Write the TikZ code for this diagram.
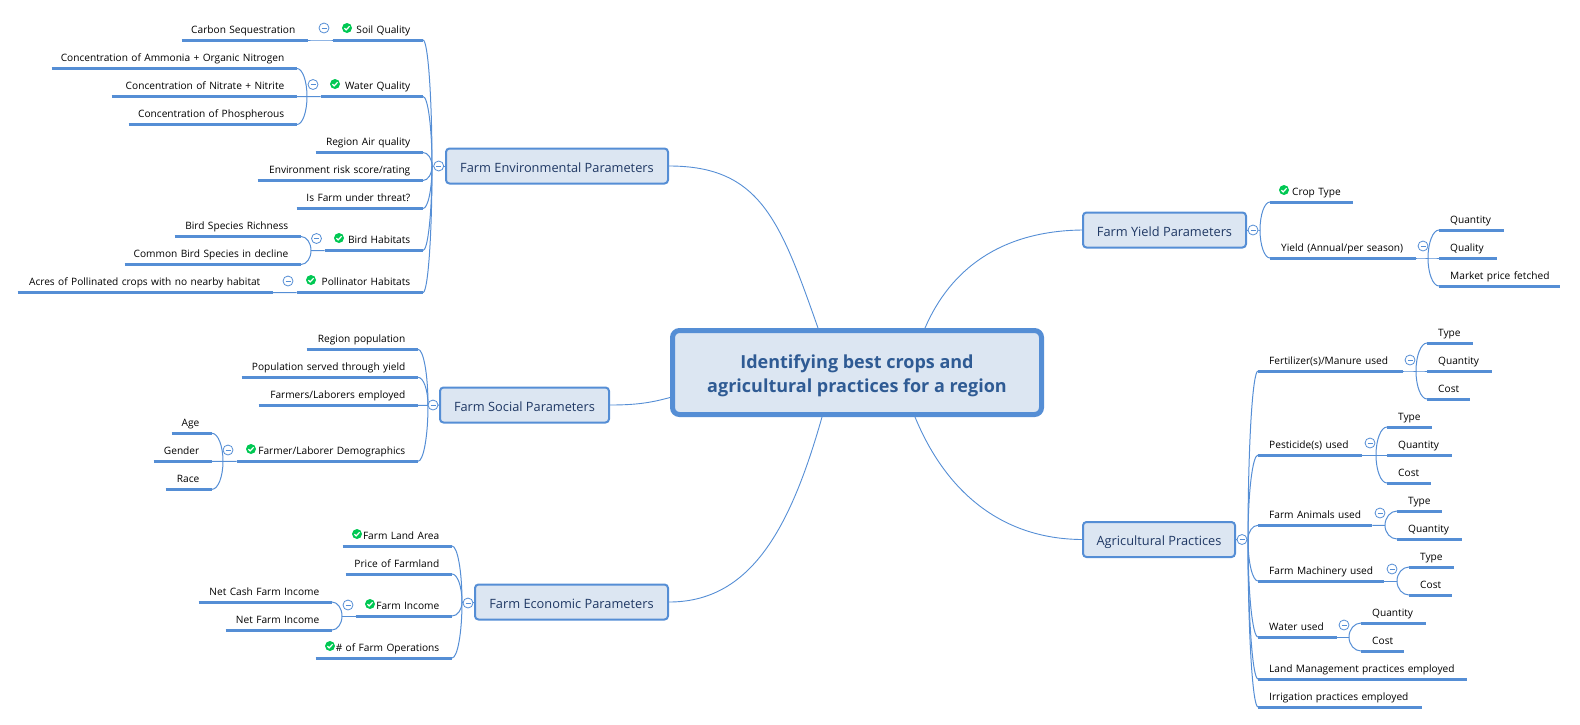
\documentclass[tikz,border=0pt]{standalone}
\usepackage{fontspec}
\setmainfont{Open Sans}
\usetikzlibrary{positioning,calc}

\definecolor{mapblue}{HTML}{558ED5}
\definecolor{mapfill}{HTML}{DCE6F2}
\definecolor{maptext}{HTML}{1F3864}
\definecolor{roottext}{HTML}{2F5B94}
\definecolor{okgreen}{HTML}{00C853}

\tikzset{
    rootbox/.style={draw = mapblue, line width = 5pt, fill = mapfill,
        rounded corners = 7pt, text = roottext, align = center,
        minimum width = 369pt, minimum height = 84pt,
        font = \fontsize{18}{23.5}\selectfont\bfseries},
    mainbox/.style={draw = mapblue, line width = 2pt, fill = mapfill,
        rounded corners = 3.5pt, text = maptext, align = center,
        minimum height = 35pt, inner xsep = 0pt,
        text height = 15pt, text depth = 3pt,
        font = \fontsize{12.8}{16}\selectfont},
    uline/.style={draw = mapblue, line width = 3pt},
    topic/.style={inner xsep = 0pt, inner ysep = 0pt, text = black,
        text height = 9pt, text depth = 6.6pt,
        font = \fontsize{10.15}{12}\selectfont,
        append after command={(\tikzlastnode.south west) edge[uline] (\tikzlastnode.south east)}},
    ltopic/.style={topic, anchor = south east, text width = #1pt, align = right,
        execute at end node={\kern12.5pt}},
    rtopic/.style={topic, anchor = south west, text width = #1pt, align = left,
        execute at begin node={\hspace*{11pt}}},
    branch/.style={draw = mapblue, line width = 1pt,
        to path={.. controls ($(\tikztostart)!0.55!(\tikztostart |- \tikztotarget)$)
            and ($(\tikztotarget)!0.55!(\tikztostart |- \tikztotarget)$) .. (\tikztotarget)}},
    rootline/.style={draw = mapblue, line width = 0.9pt},
    okmark/.style={circle, fill = okgreen, minimum size = 10pt, inner sep = 0pt,
        path picture={\draw[white, line width = 1.2pt]
            ([shift={(-2.6,0.1)}]path picture bounding box.center) --
            ([shift={(-0.8,1.9)}]path picture bounding box.center) --
            ([shift={(2.6,-1.8)}]path picture bounding box.center);}},
    foldmark/.style={circle, draw = mapblue, fill = white, line width = 0.8pt,
        minimum size = 10pt, inner sep = 0pt,
        path picture={\draw[mapblue, line width = 0.8pt]
            ([shift={(-2.5,0)}]path picture bounding box.center) --
            ([shift={(2.5,0)}]path picture bounding box.center);}}
}

\begin{document}
\begin{tikzpicture}[x=1pt, y=-1pt]
        \useasboundingbox (0,0) rectangle (1580,724);

        %centre
        \node[rootbox] (root) at (857,372.5) {\rule{0pt}{20pt}Identifying best crops and\\agricultural practices for a region};

        %main boxes
        \node[mainbox, minimum width = 222pt] (env) at (557,166) {Farm Environmental Parameters};
        \node[mainbox, minimum width = 169pt] (social) at (524.5,405) {Farm Social Parameters};
        \node[mainbox, minimum width = 193pt] (econ) at (571.5,602) {Farm Economic Parameters};
        \node[mainbox, minimum width = 163pt] (yield) at (1164.5,230) {Farm Yield Parameters};
        \node[mainbox, minimum width = 152pt] (agri) at (1159,539.5) {Agricultural Practices};

        %links to the centre
        \draw[rootline] (env.east) .. controls (760,166) and (780,220) .. ($(root.north)+(-39,0)$);
        \draw[rootline] (social.east) .. controls (635,405) and (650,403) .. ($(root.west)+(0,25)$);
        \draw[rootline] (econ.east) .. controls (750,602) and (790,530) .. ($(root.south)+(-35,0)$);
        \draw[rootline] (yield.west) .. controls (1000,231) and (950,270) .. ($(root.north)+(68,0)$);
        \draw[rootline] (agri.west) .. controls (1000,539) and (945,490) .. ($(root.south)+(58,0)$);

        %environmental
        \node[ltopic=90] (soil) at (423,40) {Soil Quality};
        \node[ltopic=126] (carbon) at (308,40) {Carbon Sequestration};
        \node[ltopic=102] (water) at (423,96.5) {Water Quality};
        \node[ltopic=245] (ammonia) at (297,68.5) {Concentration of Ammonia + Organic Nitrogen};
        \node[ltopic=185] (nitrate) at (297,96.5) {Concentration of Nitrate + Nitrite};
        \node[ltopic=168] (phosph) at (297,124.5) {Concentration of Phospherous};
        \node[ltopic=107] (airq) at (423,152.5) {Region Air quality};
        \node[ltopic=165] (risk) at (423,180.5) {Environment risk score/rating};
        \node[ltopic=126] (threat) at (423,208.5) {Is Farm under threat?};
        \node[ltopic=98] (bird) at (423,250.5) {Bird Habitats};
        \node[ltopic=126] (richness) at (301,236.5) {Bird Species Richness};
        \node[ltopic=176] (decline) at (301,264.5) {Common Bird Species in decline};
        \node[ltopic=126] (pollin) at (423,292.5) {Pollinator Habitats};
        \node[ltopic=255] (acres) at (273,292.5) {Acres of Pollinated crops with no nearby habitat};

        \coordinate (envHub) at (432,166);
        \coordinate (waterHub) at (307,96.5);
        \coordinate (birdHub) at (311,250.5);

        \path[branch]
            (envHub) edge (env.west)
            (envHub) edge (soil.south east)
            (envHub) edge (water.south east)
            (envHub) edge (airq.south east)
            (envHub) edge (risk.south east)
            (envHub) edge (threat.south east)
            (envHub) edge (bird.south east)
            (envHub) edge (pollin.south east)
            (soil.south west) edge (carbon.south east)
            (water.south west) edge (waterHub)
            (waterHub) edge (ammonia.south east)
            (waterHub) edge (nitrate.south east)
            (waterHub) edge (phosph.south east)
            (bird.south west) edge (birdHub)
            (birdHub) edge (richness.south east)
            (birdHub) edge (decline.south east)
            (pollin.south west) edge (acres.south east)
            ;

        %social
        \node[ltopic=111] (people) at (418,349.3) {Region population};
        \node[ltopic=176] (served) at (418,377.3) {Population served through yield};
        \node[ltopic=159] (farmers) at (418,405.3) {Farmers/Laborers employed};
        \node[ltopic=181] (demog) at (418,461.3) {Farmer/Laborer Demographics};
        \node[ltopic=40] (age) at (212,433.3) {Age};
        \node[ltopic=58] (gender) at (212,461.3) {Gender};
        \node[ltopic=46] (race) at (212,489.3) {Race};

        \coordinate (socialHub) at (428,405.3);
        \coordinate (demogHub) at (223,461.3);

        \path[branch]
            (socialHub) edge (social.west)
            (socialHub) edge (people.south east)
            (socialHub) edge (served.south east)
            (socialHub) edge (farmers.south east)
            (socialHub) edge (demog.south east)
            (demog.south west) edge (demogHub)
            (demogHub) edge (age.south east)
            (demogHub) edge (gender.south east)
            (demogHub) edge (race.south east)
            ;

        %economic
        \node[ltopic=109] (land) at (452,546) {Farm Land Area};
        \node[ltopic=106] (price) at (452,574) {Price of Farmland};
        \node[ltopic=96] (income) at (452,616) {Farm Income};
        \node[ltopic=136] (ops) at (452,658) {\# of Farm Operations};
        \node[ltopic=133] (netcash) at (332,602) {Net Cash Farm Income};
        \node[ltopic=106] (netfarm) at (332,630) {Net Farm Income};

        \coordinate (econHub) at (462,602);
        \coordinate (incomeHub) at (342,616);

        \path[branch]
            (econHub) edge (econ.west)
            (econHub) edge (land.south east)
            (econHub) edge (price.south east)
            (econHub) edge (income.south east)
            (econHub) edge (ops.south east)
            (income.south west) edge (incomeHub)
            (incomeHub) edge (netcash.south east)
            (incomeHub) edge (netfarm.south east)
            ;

        %yield
        \node[rtopic=83] (crop) at (1270,202) {\hspace*{11pt}Crop Type};
        \node[rtopic=146] (yieldperiod) at (1270,258) {Yield (Annual/per season)};
        \node[rtopic=65] (yquantity) at (1439,230) {Quantity};
        \node[rtopic=58] (yquality) at (1439,258) {Quality};
        \node[rtopic=121] (market) at (1439,286) {Market price fetched};

        \coordinate (yieldHub) at (1260,230);
        \coordinate (periodHub) at (1428,258);

        \path[branch]
            (yieldHub) edge (yield.east)
            (yieldHub) edge (crop.south west)
            (yieldHub) edge (yieldperiod.south west)
            (yieldperiod.south east) edge (periodHub)
            (periodHub) edge (yquantity.south west)
            (periodHub) edge (yquality.south west)
            (periodHub) edge (market.south west)
            ;

        %practices
        \node[rtopic=145] (fert) at (1258,371) {Fertilizer(s)/Manure used};
        \node[rtopic=46] (ftype) at (1427,343) {Type};
        \node[rtopic=65] (fquantity) at (1427,371) {Quantity};
        \node[rtopic=43] (fcost) at (1427,399) {Cost};
        \node[rtopic=104] (pest) at (1258,455) {Pesticide(s) used};
        \node[rtopic=45] (ptype) at (1387,427) {Type};
        \node[rtopic=65] (pquantity) at (1387,455) {Quantity};
        \node[rtopic=44] (pcost) at (1387,483) {Cost};
        \node[rtopic=114] (animals) at (1258,525.3) {Farm Animals used};
        \node[rtopic=45] (atype) at (1397,511) {Type};
        \node[rtopic=65] (aquantity) at (1397,539) {Quantity};
        \node[rtopic=126] (machine) at (1258,581) {Farm Machinery used};
        \node[rtopic=45] (mtype) at (1409,567) {Type};
        \node[rtopic=43] (mcost) at (1409,595) {Cost};
        \node[rtopic=79] (wateruse) at (1258,637) {Water used};
        \node[rtopic=65] (wquantity) at (1361,623) {Quantity};
        \node[rtopic=43] (wcost) at (1361,651) {Cost};
        \node[rtopic=209] (landuse) at (1258,679) {Land Management practices employed};
        \node[rtopic=164] (irrig) at (1258,707) {Irrigation practices employed};

        \coordinate (agriHub) at (1248,539.5);
        \coordinate (fertHub) at (1416,371);
        \coordinate (pestHub) at (1376,455);
        \coordinate (animalsHub) at (1385,525.3);
        \coordinate (machineHub) at (1397,581);
        \coordinate (wateruseHub) at (1349,637);

        \path[branch]
            (agriHub) edge (agri.east)
            (agriHub) edge (fert.south west)
            (agriHub) edge (pest.south west)
            (agriHub) edge (animals.south west)
            (agriHub) edge (machine.south west)
            (agriHub) edge (wateruse.south west)
            (agriHub) edge (landuse.south west)
            (agriHub) edge (irrig.south west)
            (fert.south east) edge (fertHub)
            (fertHub) edge (ftype.south west)
            (fertHub) edge (fquantity.south west)
            (fertHub) edge (fcost.south west)
            (pest.south east) edge (pestHub)
            (pestHub) edge (ptype.south west)
            (pestHub) edge (pquantity.south west)
            (pestHub) edge (pcost.south west)
            (animals.south east) edge (animalsHub)
            (animalsHub) edge (atype.south west)
            (animalsHub) edge (aquantity.south west)
            (machine.south east) edge (machineHub)
            (machineHub) edge (mtype.south west)
            (machineHub) edge (mcost.south west)
            (wateruse.south east) edge (wateruseHub)
            (wateruseHub) edge (wquantity.south west)
            (wateruseHub) edge (wcost.south west)
            ;

        %check marks
        \node[okmark] (okSoil) at (347,28) {};
        \node[okmark] (okWater) at (335,84) {};
        \node[okmark] (okBird) at (339,238) {};
        \node[okmark] (okPollin) at (311,280) {};
        \node[okmark] (okDemog) at (251,449) {};
        \node[okmark] (okLand) at (357,534) {};
        \node[okmark] (okIncome) at (370,604) {};
        \node[okmark] (okOps) at (330,646) {};
        \node[okmark] (okCrop) at (1284,190) {};

        %collapse marks
        \node[foldmark] (foldEnv) at (438.7,166) {};
        \node[foldmark] (foldSoil) at (324,28) {};
        \node[foldmark] (foldWater) at (313,84.5) {};
        \node[foldmark] (foldBird) at (316.5,238.5) {};
        \node[foldmark] (foldPollin) at (288,281) {};
        \node[foldmark] (foldSocial) at (433,405) {};
        \node[foldmark] (foldDemog) at (228,450) {};
        \node[foldmark] (foldEcon) at (468,603) {};
        \node[foldmark] (foldIncome) at (348,605) {};
        \node[foldmark] (foldYield) at (1253,230) {};
        \node[foldmark] (foldPeriod) at (1423,246) {};
        \node[foldmark] (foldAgri) at (1242,539.5) {};
        \node[foldmark] (foldFert) at (1410,360) {};
        \node[foldmark] (foldPest) at (1370,443) {};
        \node[foldmark] (foldAnimals) at (1380,513) {};
        \node[foldmark] (foldMachine) at (1392,569) {};
        \node[foldmark] (foldWateruse) at (1344,625) {};

\end{tikzpicture}
\end{document}
